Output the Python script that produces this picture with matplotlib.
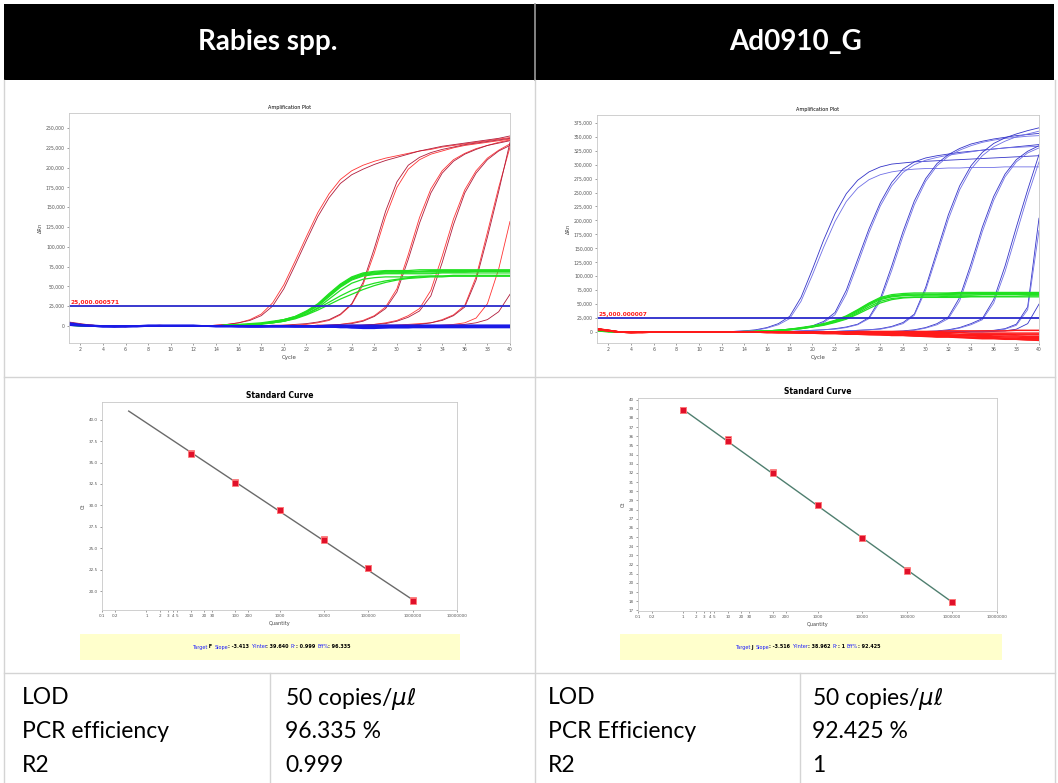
import matplotlib.pyplot as plt
from matplotlib.patches import Rectangle

W, H = 1058, 783
cycles = list(range(1, 41))

# ---------------- Rabies spp. amplification plot (dRn, thousands) ----------------
rabies_red = [
    [4, 2, 1, 0, 0, -1, 0, 0, 0, 0, 0, 0, 0, 1, 2, 4, 8, 15, 29, 52, 82, 113, 143, 167, 185, 196, 203, 208, 212, 215, 218, 221, 223, 226, 228, 230, 232, 234, 236, 238],
    [5, 3, 1, 0, -1, -1, 0, 0, 1, 0, 0, 0, 0, 1, 2, 4, 7, 13, 25, 47, 77, 108, 138, 162, 180, 191, 198, 204, 209, 213, 217, 221, 224, 227, 229, 231, 233, 235, 237, 240],
    [4, 2, 0, 0, 0, 0, 0, 0, 0, 0, 0, 0, 0, 0, 0, 0, 0, 0, 0, 1, 1, 2, 4, 7, 14, 27, 52, 92, 138, 175, 198, 210, 217, 221, 225, 228, 230, 232, 234, 236],
    [3, 1, 0, 0, -1, 0, 0, 0, 0, 0, 0, 0, 0, 0, 0, 0, 0, 0, 1, 1, 2, 3, 5, 8, 15, 28, 55, 98, 145, 182, 203, 213, 219, 223, 226, 229, 231, 233, 235, 237],
    [4, 2, 1, 0, 0, 0, 0, 0, 0, 0, 0, 0, 0, 0, 0, 0, 0, 0, 0, 0, 0, 0, 1, 1, 2, 4, 7, 13, 24, 47, 90, 137, 173, 196, 210, 218, 224, 228, 232, 235],
    [3, 1, 0, 0, 0, 0, 0, 0, 0, 0, 0, 0, 0, 0, 0, 0, 0, 0, 0, 0, 0, 0, 1, 1, 2, 3, 6, 12, 22, 43, 84, 130, 168, 193, 208, 217, 223, 228, 231, 234],
    [4, 2, 0, 0, 0, 0, 0, 0, 0, 0, 0, 0, 0, 0, 0, 0, 0, 0, 0, 0, 0, 0, 0, 0, 0, 1, 1, 2, 4, 7, 13, 22, 45, 88, 135, 172, 196, 212, 222, 230],
    [3, 2, 1, 0, 0, 0, 0, 0, 0, 0, 0, 0, 0, 0, 0, 0, 0, 0, 0, 0, 0, 0, 0, 0, 0, 0, 1, 2, 3, 6, 11, 19, 38, 80, 128, 168, 193, 210, 221, 228],
    [4, 2, 0, 0, 0, 0, 0, 0, 0, 0, 0, 0, 0, 0, 0, 0, 0, 0, 0, 0, 0, 0, 0, 0, 0, 0, 0, 0, 1, 1, 2, 3, 4, 8, 14, 26, 62, 118, 175, 226],
    [3, 1, 0, 0, 0, 0, 0, 0, 0, 0, 0, 0, 0, 0, 0, 0, 0, 0, 0, 0, 0, 0, 0, 0, 0, 0, 0, 0, 0, 1, 1, 2, 4, 7, 13, 24, 58, 112, 170, 232],
    [4, 2, 0, 0, 0, 0, 0, 0, 0, 0, 0, 0, 0, 0, 0, 0, 0, 0, 0, 0, 0, 0, 0, 0, 0, 0, 0, 0, 0, 0, 0, 0, 0, 1, 2, 4, 10, 28, 72, 132],
    [3, 1, 0, 0, 0, 0, 0, 0, 0, 0, 0, 0, 0, 0, 0, 0, 0, 0, 0, 0, 0, 0, 0, 0, 0, 0, 0, 0, 0, 0, 0, 0, 0, 0, 1, 2, 4, 8, 18, 40],
]
rabies_green = [
    [2, 1, 0, 0, 0, 0, 0, 0, 0, 0, 0, 0, 0, 0, 1, 1, 2, 3, 5, 8, 12, 18, 27, 40, 52, 61, 66, 68, 69, 69, 69, 69, 70, 70, 70, 70, 70, 70, 70, 70],
    [2, 1, 0, 0, 0, 0, 0, 0, 0, 0, 0, 0, 0, 0, 1, 1, 2, 3, 5, 7, 11, 17, 25, 37, 49, 58, 63, 65, 66, 66, 66, 66, 66, 67, 67, 67, 67, 67, 67, 67],
    [1, 0, 0, 0, 0, 0, 0, 0, 0, 0, 0, 0, 0, 0, 1, 1, 2, 3, 5, 7, 11, 17, 26, 38, 50, 59, 64, 66, 67, 67, 68, 68, 68, 68, 68, 68, 69, 69, 69, 69],
    [2, 1, 0, 0, 0, 0, 0, 0, 0, 0, 0, 0, 0, 0, 0, 1, 2, 3, 4, 6, 10, 15, 23, 34, 45, 54, 59, 61, 62, 62, 62, 63, 63, 63, 63, 63, 63, 63, 63, 63],
    [1, 0, 0, 0, 0, 0, 0, 0, 0, 0, 0, 0, 0, 0, 0, 1, 2, 3, 4, 6, 10, 15, 22, 30, 38, 45, 50, 54, 57, 59, 61, 62, 63, 63, 64, 64, 64, 64, 64, 64],
    [2, 0, 0, 0, 0, 0, 0, 0, 0, 0, 0, 0, 0, 0, 0, 1, 1, 2, 4, 6, 9, 14, 20, 27, 34, 40, 46, 51, 55, 58, 60, 61, 62, 62, 63, 63, 63, 63, 63, 63],
    [2, 1, 0, 0, 0, 0, 0, 0, 0, 0, 0, 0, 0, 0, 1, 1, 2, 3, 5, 8, 11, 18, 27, 39, 51, 60, 65, 67, 68, 68, 68, 69, 69, 69, 69, 69, 69, 69, 69, 69],
    [2, 1, 0, 0, 0, 0, 0, 0, 0, 0, 0, 0, 0, 0, 1, 2, 3, 4, 6, 8, 12, 19, 28, 41, 53, 62, 67, 69, 70, 70, 70, 71, 71, 71, 71, 71, 71, 71, 71, 71],
]
rabies_blue = [
    [3, 1, 0, -1, -1, 0, 0, 0, 0, 0, 0, 0, 0, 0, 0, -1, -1, -1, 0, 0, 0, 0, -1, -1, -1, -2, -2, -1, -1, -1, -1, -1, -1, -1, -1, -1, -1, -1, -1, -1],
    [2, 1, 0, 0, 0, 0, 0, 0, 0, 0, 0, 0, 0, 0, 0, 0, 0, 0, 0, 0, 0, 0, 0, 0, 0, -1, -1, 0, 0, 0, 0, 0, 0, 0, 0, 0, 0, 0, 0, 0],
    [4, 2, 0, -1, -1, -1, 0, 0, 0, 0, 0, 0, 0, -1, -1, -1, -1, -1, -1, -1, -1, -1, -1, -1, -2, -2, -3, -3, -2, -2, -2, -2, -2, -2, -2, -2, -2, -2, -2, -2],
    [1, 0, 0, 0, 0, 0, 0, 1, 1, 1, 1, 1, 0, 0, 0, 0, 0, 0, 0, 0, 0, 0, 0, 1, 1, 1, 1, 1, 1, 1, 1, 1, 1, 1, 1, 1, 1, 1, 1, 1],
    [3, 1, 0, 0, -1, -1, -1, 0, 0, 0, 0, 0, 0, 0, 0, 0, 0, 0, 0, 0, -1, -1, -1, -1, -1, -1, -2, -2, -2, -1, -1, -1, 0, 0, 0, 0, 0, 0, 0, 0],
    [2, 1, 1, 0, 0, 0, 0, 0, 0, 0, 0, 0, 0, 0, 0, 0, -1, -1, -1, -1, -1, -1, -1, -1, -1, -2, -2, -2, -2, -2, -2, -1, -1, -1, -1, -1, -1, -1, -1, -1],
]

# ---------------- Ad0910_G amplification plot (dRn, thousands) ----------------
ad_blue = [
    [6, 3, 0, -1, -1, 0, 0, 0, 0, 0, 0, 0, 1, 2, 4, 8, 15, 28, 62, 112, 165, 212, 248, 272, 287, 296, 301, 303, 305, 306, 307, 308, 309, 310, 311, 312, 313, 314, 315, 316],
    [5, 2, 0, -1, 0, 0, 0, 0, 0, 0, 0, 0, 1, 2, 3, 7, 13, 24, 55, 102, 152, 198, 234, 258, 273, 282, 287, 290, 292, 293, 293, 294, 294, 295, 295, 295, 296, 296, 296, 296],
    [6, 3, 0, -1, 0, 0, 0, 0, 0, 0, 0, 0, 0, 0, 1, 2, 3, 5, 7, 11, 19, 35, 75, 130, 185, 232, 268, 292, 305, 312, 316, 319, 322, 324, 326, 328, 330, 332, 334, 336],
    [5, 2, 0, 0, 0, 0, 0, 0, 0, 0, 0, 0, 0, 0, 1, 1, 2, 4, 6, 9, 17, 31, 68, 122, 178, 226, 262, 286, 300, 308, 313, 317, 320, 323, 326, 328, 330, 331, 332, 333],
    [5, 2, 0, -1, 0, 0, 0, 0, 0, 0, 0, 0, 0, 0, 0, 0, 1, 1, 2, 3, 4, 6, 9, 14, 26, 60, 118, 180, 235, 275, 302, 318, 329, 337, 342, 346, 349, 352, 354, 356],
    [6, 3, 0, 0, 0, 0, 0, 0, 0, 0, 0, 0, 0, 0, 0, 0, 1, 1, 2, 3, 4, 5, 8, 13, 24, 55, 110, 172, 228, 270, 298, 315, 326, 334, 340, 344, 347, 349, 351, 352],
    [5, 2, 0, -1, 0, 0, 0, 0, 0, 0, 0, 0, 0, 0, 0, 0, 0, 0, 0, 1, 1, 1, 2, 3, 4, 6, 10, 17, 32, 80, 145, 210, 262, 298, 322, 338, 348, 355, 361, 366],
    [6, 3, 0, 0, 0, 0, 0, 0, 0, 0, 0, 0, 0, 0, 0, 0, 0, 0, 0, 1, 1, 1, 2, 3, 4, 5, 9, 15, 30, 75, 138, 202, 255, 292, 316, 332, 342, 350, 355, 360],
    [5, 2, 0, 0, 0, 0, 0, 0, 0, 0, 0, 0, 0, 0, 0, 0, 0, 0, 0, 0, 0, 0, 0, 1, 1, 1, 1, 2, 4, 8, 15, 27, 62, 122, 188, 243, 283, 309, 324, 334],
    [6, 3, 0, -1, 0, 0, 0, 0, 0, 0, 0, 0, 0, 0, 0, 0, 0, 0, 0, 0, 0, 0, 0, 0, 1, 1, 1, 1, 3, 7, 13, 24, 56, 114, 180, 236, 278, 305, 321, 330],
    [5, 2, 0, 0, 0, 0, 0, 0, 0, 0, 0, 0, 0, 0, 0, 0, 0, 0, 0, 0, 0, 0, 0, 0, 0, 0, 0, 1, 1, 1, 2, 4, 8, 15, 24, 58, 118, 188, 255, 318],
    [6, 3, 0, 0, 0, 0, 0, 0, 0, 0, 0, 0, 0, 0, 0, 0, 0, 0, 0, 0, 0, 0, 0, 0, 0, 0, 0, 0, 1, 1, 1, 3, 7, 13, 22, 52, 108, 176, 244, 305],
    [5, 2, 0, 0, 0, 0, 0, 0, 0, 0, 0, 0, 0, 0, 0, 0, 0, 0, 0, 0, 0, 0, 0, 0, 0, 0, 0, 0, 0, 0, 0, 0, 1, 1, 2, 3, 6, 14, 45, 204],
    [6, 3, 0, 0, 0, 0, 0, 0, 0, 0, 0, 0, 0, 0, 0, 0, 0, 0, 0, 0, 0, 0, 0, 0, 0, 0, 0, 0, 0, 0, 0, 0, 0, 1, 1, 2, 5, 12, 40, 182],
    [5, 2, 0, 0, 0, 0, 0, 0, 0, 0, 0, 0, 0, 0, 0, 0, 0, 0, 0, 0, 0, 0, 0, 0, 0, 0, 0, 0, 0, 0, 0, 0, 0, 0, 0, 1, 2, 5, 15, 50],
]
ad_green = [
    [3, 1, 0, 0, 0, 0, 0, 0, 0, 0, 0, 0, 0, 1, 1, 2, 3, 5, 7, 10, 14, 19, 26, 36, 48, 58, 63, 65, 66, 67, 67, 67, 68, 68, 68, 68, 68, 69, 69, 69],
    [3, 1, 0, 0, 0, 0, 0, 0, 0, 0, 0, 0, 0, 1, 1, 2, 3, 4, 6, 9, 13, 18, 24, 34, 45, 55, 60, 62, 63, 63, 63, 64, 64, 64, 64, 64, 64, 64, 65, 65],
    [2, 1, 0, 0, 0, 0, 0, 0, 0, 0, 0, 0, 0, 0, 1, 2, 3, 5, 8, 11, 15, 21, 29, 40, 52, 62, 67, 69, 70, 70, 70, 70, 71, 71, 71, 71, 71, 71, 71, 71],
    [3, 1, 0, 0, 0, 0, 0, 0, 0, 0, 0, 0, 0, 0, 1, 2, 3, 4, 7, 10, 14, 20, 27, 38, 50, 60, 65, 67, 68, 68, 68, 69, 69, 69, 69, 69, 69, 70, 70, 70],
    [2, 0, 0, 0, 0, 0, 0, 0, 0, 0, 0, 0, 0, 0, 1, 1, 2, 4, 6, 9, 12, 17, 23, 32, 42, 52, 58, 61, 62, 62, 62, 62, 62, 63, 63, 63, 63, 63, 63, 63],
    [3, 1, 0, 0, 0, 0, 0, 0, 0, 0, 0, 0, 0, 0, 1, 2, 3, 5, 7, 10, 14, 20, 28, 39, 51, 60, 64, 66, 66, 66, 66, 66, 66, 66, 67, 67, 67, 67, 67, 67],
]
ad_red = [
    [6, 3, 0, -1, -1, 0, 0, 0, 0, 0, 0, 0, 0, 0, 0, -1, -1, -1, -2, -2, -3, -3, -4, -4, -5, -5, -6, -6, -7, -7, -8, -8, -9, -9, -10, -10, -11, -11, -12, -12],
    [5, 2, 0, -1, 0, 0, 0, 0, 0, 0, 0, 0, 0, 0, 0, 0, -1, -1, -1, -1, -2, -2, -2, -3, -3, -3, -4, -4, -4, -5, -5, -5, -6, -6, -6, -7, -7, -7, -8, -8],
    [6, 2, 0, -1, -1, 0, 0, 0, 0, 0, 0, 0, 0, 0, 0, -1, -1, -1, -1, -1, -1, -1, -2, -2, -3, -3, -4, -5, -6, -7, -8, -8, -9, -10, -11, -11, -12, -13, -14, -15],
    [5, 3, 0, 0, 0, 0, 0, 0, 0, 0, 0, 0, 0, 0, 0, 0, 0, 0, -1, -1, -1, -1, -1, -2, -2, -2, -2, -3, -3, -3, -3, -3, -4, -4, -4, -4, -4, -5, -5, -5],
    [4, 2, 0, 0, 0, 0, 0, 0, 0, 0, 0, 0, 0, 0, 0, 0, 0, 0, 0, 0, 0, 0, 0, 0, -1, -1, -1, -1, -1, -1, -1, -1, -1, -2, -2, -2, -2, -2, -2, -2],
    [6, 3, 0, -1, 0, 0, 0, 0, 0, 0, 0, 0, 0, 0, 0, 0, -1, -1, -1, -1, -1, -2, -3, -3, -4, -5, -6, -6, -7, -8, -9, -9, -10, -11, -12, -12, -13, -13, -14, -14],
    [5, 2, 0, 0, 0, 0, 0, 0, 0, 0, 0, 0, 0, 0, 0, 0, 0, 0, 0, 0, 0, 0, 0, 1, 1, 1, 1, 1, 1, 1, 1, 2, 2, 2, 2, 2, 2, 3, 3, 3],
    [5, 3, 0, -1, 0, 0, 0, 0, 0, 0, 0, 0, 0, 0, 0, 0, 0, -1, -1, -1, -1, -1, -2, -2, -3, -3, -4, -4, -5, -5, -6, -6, -7, -7, -8, -8, -9, -9, -10, -10],
]

# ---------------- standard curves ----------------
rabies_qty = [10, 10, 100, 100, 1000, 1000, 1e4, 1e4, 1e5, 1e5, 1e6, 1e6]
rabies_ct = [36.15, 36.0, 32.75, 32.65, 29.5, 29.45, 26.05, 26.0, 22.7, 22.65, 18.95, 18.9]
rabies_fit_q = [0.4, 1e6]
rabies_fit_ct = [41.0, 19.0]
ad_qty = [1, 1, 10, 10, 100, 100, 1000, 1000, 1e4, 1e4, 1e5, 1e5, 1e6, 1e6]
ad_ct = [38.9, 38.85, 35.7, 35.5, 32.05, 31.95, 28.45, 28.5, 24.95, 24.9, 21.4, 21.35, 17.95, 17.9]
ad_fit_q = [1, 1e6]
ad_fit_ct = [38.95, 17.9]

qty_ticks = [0.1, 0.2, 1, 2, 3, 4, 5, 10, 20, 30, 100, 200, 1000, 1e4, 1e5, 1e6, 1e7]
qty_labels = ["0.1", "0.2", "1", "2", "3", "4", "5", "10", "20", "30", "100", "200",
              "1000", "10000", "100000", "1000000", "10000000"]

rabies_summary = ["Target", " F ", "Slope", ": -3.413 ", "Y-Inter", ": 39.640 ", "R\u00b2", ": 0.999 ", "Eff%", ": 96.335"]
ad_summary = ["Target", " J ", "Slope", ": -3.516 ", "Y-Inter", ": 38.962 ", "R\u00b2", ": 1 ", "Eff%", ": 92.425"]

headers = ["Rabies spp.", "Ad0910_G"]
row_names_left = ["LOD", "PCR efficiency", "R2"]
row_vals_left = ["50 copies/$\\mu\\ell$", "96.335 %", "0.999"]
row_names_right = ["LOD", "PCR Efficiency", "R2"]
row_vals_right = ["50 copies/$\\mu\\ell$", "92.425 %", "1"]

CELL_FONT = ["Lato", "DejaVu Sans"]


def px(x0, y0, x1, y1):
    return [x0 / W, 1 - y1 / H, (x1 - x0) / W, (y1 - y0) / H]


def style_small(ax):
    for s in ax.spines.values():
        s.set_color("#c8c8c8")
        s.set_linewidth(0.6)
    ax.tick_params(labelsize=3.3, length=1.5, width=0.4, pad=1.5, colors="#555555")
    ax.set_facecolor("white")


def amp_panel(box, amp, amp_colors, green, base, base_color, ymax, ylim, thr_label):
    ax = fig.add_axes(px(*box))
    for i, c in enumerate(amp):
        ax.plot(cycles, [v * 1000 for v in c], color=amp_colors[i % 2], lw=0.6)
    for c in green:
        ax.plot(cycles, [v * 1000 for v in c], color="#20e020", lw=0.9)
    for c in base:
        ax.plot(cycles, [v * 1000 for v in c], color=base_color, lw=1.1)
    ax.axhline(25000, color="#2a2acc", lw=1.3)
    ax.text(1.15, 26500, thr_label, color="#ff1a1a", fontsize=4.2, fontweight="bold", va="bottom")
    ax.set_xlim(1, 40)
    ax.set_ylim(*ylim)
    ax.set_xticks(range(2, 41, 2))
    yt = list(range(0, ymax + 1, 25000))
    ax.set_yticks(yt)
    ax.set_yticklabels(["{:,}".format(v) for v in yt])
    style_small(ax)
    ax.set_title("Amplification Plot", fontsize=3.5, pad=3)
    ax.set_xlabel("Cycle", fontsize=4, labelpad=2, color="#444444")
    ax.set_ylabel("\u0394Rn", fontsize=3.6, labelpad=2, color="#444444")
    return ax


def std_panel(box, q, ct, fit_q, fit_ct, line_color, ylim, yticks, ylabels):
    ax = fig.add_axes(px(*box))
    ax.set_xscale("log")
    ax.plot(fit_q, fit_ct, color=line_color, lw=1.0, zorder=2)
    ax.plot(q, ct, "s", ms=4.2, color="#e0102a", mec="#ff8080", mew=0.6, ls="none", zorder=3)
    ax.set_xlim(0.1, 1e7)
    ax.set_ylim(*ylim)
    ax.set_xticks(qty_ticks)
    ax.set_xticklabels(qty_labels)
    ax.minorticks_off()
    ax.set_yticks(yticks)
    ax.set_yticklabels(ylabels)
    style_small(ax)
    ax.tick_params(labelsize=3.0)
    ax.set_title("Standard Curve", fontsize=5.5, fontweight="bold", pad=3)
    ax.set_xlabel("Quantity", fontsize=3.6, labelpad=2, color="#444444")
    ax.set_ylabel("Ct", fontsize=3.6, labelpad=2, color="#444444")
    return ax


def summary_line(x, y, parts):
    prev = bg.text(x, y, parts[0], fontsize=3.5, color="#1a1aff", va="center", ha="left")
    for i, p in enumerate(parts[1:], start=1):
        col = "#1a1aff" if i % 2 == 0 else "black"
        prev = bg.annotate(p, xy=(1, 0), xycoords=prev, va="bottom", ha="left",
                           fontsize=3.5, color=col, fontweight="normal" if i % 2 == 0 else "bold")


fig = plt.figure(figsize=(W / 100, H / 100), dpi=100)
fig.patch.set_facecolor("white")

bg = fig.add_axes([0, 0, 1, 1])
bg.set_xlim(0, W)
bg.set_ylim(H, 0)
bg.axis("off")

# table frame
grid = "#d4d4d4"
bg.add_patch(Rectangle((4, 4), W - 8, 76, facecolor="black", edgecolor="none"))
bg.plot([535, 535], [4, 80], color="#9a9a9a", lw=1.2)
bg.plot([535, 535], [80, H], color=grid, lw=1.0)
bg.plot([4, 4], [80, H], color=grid, lw=1.0)
bg.plot([W - 3, W - 3], [80, H], color=grid, lw=1.0)
for yy in [377, 673]:
    bg.plot([4, W - 3], [yy, yy], color=grid, lw=1.0)
for xx in [270, 800]:
    bg.plot([xx, xx], [673, H], color=grid, lw=1.0)

bg.text(268, 42, headers[0], color="white", fontsize=20, fontweight="bold", ha="center", va="center", family=CELL_FONT)
bg.text(796, 42, headers[1], color="white", fontsize=20, fontweight="bold", ha="center", va="center", family=CELL_FONT)

row_y = [698, 731, 765]
for i in range(3):
    bg.text(22, row_y[i], row_names_left[i], fontsize=16.5, va="center", family=CELL_FONT)
    bg.text(285, row_y[i], row_vals_left[i], fontsize=16.5, va="center", family=CELL_FONT)
    bg.text(548, row_y[i], row_names_right[i], fontsize=16.5, va="center", family=CELL_FONT)
    bg.text(812, row_y[i], row_vals_right[i], fontsize=16.5, va="center", family=CELL_FONT)

# yellow summary boxes
bg.add_patch(Rectangle((80, 634), 380, 26, facecolor="#ffffcc", edgecolor="none"))
bg.add_patch(Rectangle((620, 634), 382, 26, facecolor="#ffffcc", edgecolor="none"))
summary_line(192, 647, rabies_summary)
summary_line(735, 647, ad_summary)

# amplification plots
amp_panel((69, 113, 510, 343), rabies_red, ["#ff3333", "#b01a3a"], rabies_green, rabies_blue, "#1a1ae6",
          250000, (-21500, 269000), "25,000.000571")
amp_panel((597, 115, 1039, 343), ad_blue, ["#3434c8", "#6f6fe6"], ad_green, ad_red, "#ff1a1a",
          375000, (-19700, 389000), "25,000.000007")

# standard curves
std_panel((102, 402, 457, 610), rabies_qty, rabies_ct, rabies_fit_q, rabies_fit_ct, "#6a6a6a",
          (17.8, 42.06), [20, 22.5, 25, 27.5, 30, 32.5, 35, 37.5, 40],
          ["20.0", "22.5", "25.0", "27.5", "30.0", "32.5", "35.0", "37.5", "40.0"])
std_panel((638, 398, 997, 611), ad_qty, ad_ct, ad_fit_q, ad_fit_ct, "#4f7f6f",
          (16.93, 40.18), list(range(17, 41)), [str(v) for v in range(17, 41)])

fig.savefig("out.png", dpi=100, facecolor="white")
